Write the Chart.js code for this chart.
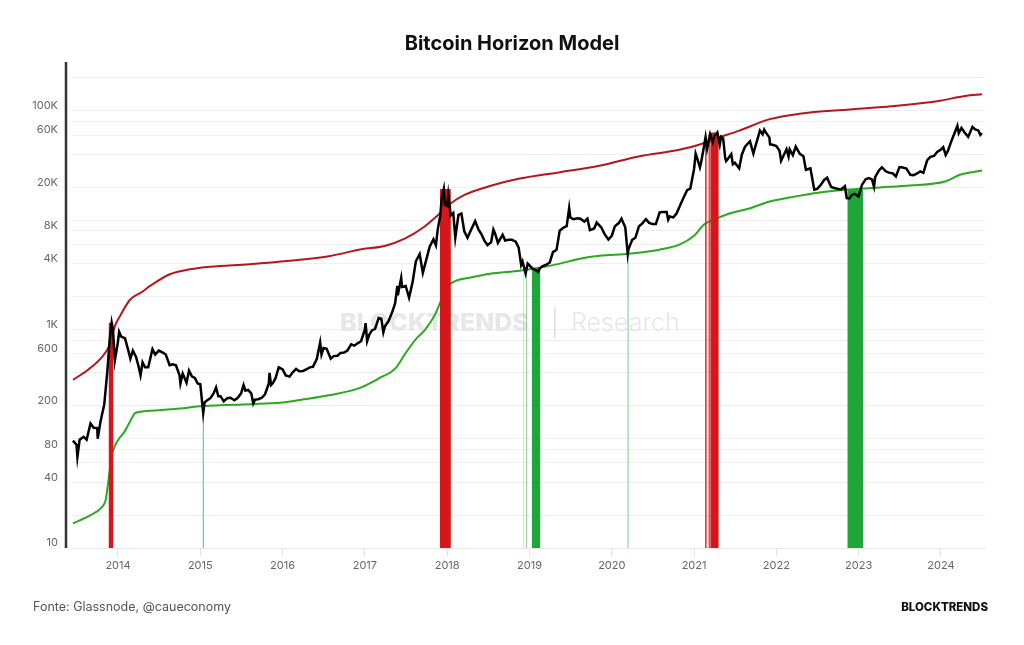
<!DOCTYPE html>
<html>
<head>
<meta charset="utf-8">
<title>Bitcoin Horizon Model</title>
<script src="https://cdn.jsdelivr.net/npm/chart.js@4.4.1/dist/chart.umd.min.js"></script>
<style>
  html, body { margin: 0; padding: 0; background: #fff; }
  #wrap { position: relative; width: 1024px; height: 645px; font-family: Inter, "Noto Sans", sans-serif; }
  #chart { position: absolute; left: 0; top: 0; }
  #title { position: absolute; top: 31px; left: 0; width: 1024px; text-align: center; font-size: 20px; font-weight: 700; color: #111; }
  #source { position: absolute; left: 33px; top: 599px; font-size: 12.5px; color: #555; }
  #brand { position: absolute; right: 36px; top: 600px; font-size: 11.5px; font-weight: 800; color: #111; }
</style>
</head>
<body>
<div id="wrap">
  <canvas id="chart" width="1024" height="645"></canvas>
  <div id="title">Bitcoin Horizon Model</div>
  <div id="source">Fonte: Glassnode, @caueconomy</div>
  <div id="brand">BLOCKTRENDS</div>
</div>
<script>
// axis ticks
var yearTicks = [2014, 2015, 2016, 2017, 2018, 2019, 2020, 2021, 2022, 2023, 2024];
var yGrid = [10, 20, 40, 60, 80, 100, 200, 400, 600, 800, 1000, 2000, 4000, 6000, 8000,
             10000, 20000, 40000, 60000, 80000, 100000, 200000];
var yLabelValues = [10, 40, 80, 200, 600, 1000, 4000, 8000, 20000, 60000, 100000];
var yLabelText = ["10", "40", "80", "200", "600", "1K", "4K", "8K", "20K", "60K", "100K"];

// BTC price
var priceDates = [
  "2013-06-15","2013-07-01","2013-07-05","2013-07-15","2013-08-01","2013-08-15","2013-09-01","2013-09-15",
  "2013-10-01","2013-10-03","2013-10-15","2013-11-01","2013-11-15","2013-11-25","2013-12-04","2013-12-10",
  "2013-12-18","2013-12-31",
  "2014-01-06","2014-01-15","2014-02-01","2014-02-15","2014-02-25","2014-03-08","2014-03-22","2014-04-01",
  "2014-04-11","2014-04-20","2014-05-01","2014-05-15","2014-06-03","2014-06-15","2014-07-01","2014-07-15",
  "2014-08-01","2014-08-18","2014-09-01","2014-09-15","2014-10-01","2014-10-05","2014-10-15","2014-11-01",
  "2014-11-12","2014-11-25","2014-12-08","2014-12-20",
  "2015-01-01","2015-01-14","2015-01-20","2015-02-01","2015-02-15","2015-03-01","2015-03-12","2015-03-22",
  "2015-04-01","2015-04-15","2015-05-01","2015-05-15","2015-06-01","2015-06-15","2015-07-01","2015-07-12",
  "2015-07-20","2015-08-01","2015-08-15","2015-08-24","2015-09-01","2015-09-15","2015-10-01","2015-10-15",
  "2015-11-01","2015-11-04","2015-11-11","2015-11-20","2015-12-01","2015-12-15",
  "2016-01-01","2016-01-15","2016-02-01","2016-02-15","2016-03-01","2016-03-15","2016-04-01","2016-04-15",
  "2016-05-01","2016-05-15","2016-06-01","2016-06-16","2016-06-22","2016-07-01","2016-07-15","2016-08-02",
  "2016-08-15","2016-09-01","2016-09-15","2016-10-01","2016-10-15","2016-11-01","2016-11-15","2016-12-01",
  "2016-12-15",
  "2017-01-01","2017-01-04","2017-01-11","2017-01-20","2017-02-01","2017-02-15","2017-03-03","2017-03-15",
  "2017-03-24","2017-04-01","2017-04-15","2017-05-01","2017-05-15","2017-05-25","2017-05-27","2017-06-11",
  "2017-06-15","2017-07-01","2017-07-16","2017-08-01","2017-08-15","2017-09-01","2017-09-15","2017-10-01",
  "2017-10-15","2017-11-01","2017-11-12","2017-11-20","2017-12-01","2017-12-08","2017-12-17","2017-12-22",
  "2018-01-01","2018-01-06","2018-01-17","2018-01-28","2018-02-06","2018-02-20","2018-03-05","2018-03-18",
  "2018-04-01","2018-04-15","2018-05-05","2018-05-20","2018-06-01","2018-06-15","2018-06-29","2018-07-15",
  "2018-07-25","2018-08-01","2018-08-14","2018-09-04","2018-09-15","2018-10-01","2018-10-15","2018-11-01",
  "2018-11-14","2018-11-25","2018-12-01","2018-12-15","2018-12-24",
  "2019-01-01","2019-01-15","2019-02-01","2019-02-08","2019-02-15","2019-03-01","2019-03-15","2019-04-01",
  "2019-04-15","2019-05-01","2019-05-15","2019-06-01","2019-06-15","2019-06-26","2019-07-01","2019-07-15",
  "2019-08-01","2019-08-15","2019-09-01","2019-09-15","2019-09-26","2019-10-15","2019-10-26","2019-11-15",
  "2019-12-01","2019-12-17",
  "2020-01-01","2020-01-15","2020-02-01","2020-02-13","2020-03-01","2020-03-12","2020-03-15","2020-04-01",
  "2020-04-15","2020-05-01","2020-05-15","2020-06-01","2020-06-15","2020-07-01","2020-07-15","2020-08-01",
  "2020-08-15","2020-09-01","2020-09-08","2020-09-15","2020-10-01","2020-10-15","2020-11-01","2020-11-15",
  "2020-12-01","2020-12-15",
  "2021-01-01","2021-01-08","2021-01-15","2021-01-27","2021-02-01","2021-02-15","2021-02-21","2021-02-28",
  "2021-03-13","2021-03-25","2021-04-01","2021-04-14","2021-04-25","2021-05-01","2021-05-10","2021-05-19",
  "2021-05-23","2021-06-01","2021-06-15","2021-06-22","2021-07-01","2021-07-20","2021-08-01","2021-08-15",
  "2021-09-06","2021-09-21","2021-10-01","2021-10-20","2021-11-01","2021-11-08","2021-11-15","2021-12-01",
  "2021-12-04","2021-12-15",
  "2022-01-01","2022-01-15","2022-01-22","2022-02-01","2022-02-15","2022-02-24","2022-03-01","2022-03-15",
  "2022-03-28","2022-04-15","2022-05-01","2022-05-12","2022-06-01","2022-06-18","2022-07-01","2022-07-15",
  "2022-08-01","2022-08-14","2022-09-01","2022-09-15","2022-10-01","2022-10-15","2022-11-01","2022-11-09",
  "2022-11-21","2022-12-01","2022-12-15","2022-12-30",
  "2023-01-01","2023-01-15","2023-02-01","2023-02-15","2023-03-01","2023-03-10","2023-03-15","2023-04-01",
  "2023-04-14","2023-05-01","2023-05-15","2023-06-01","2023-06-15","2023-07-01","2023-07-15","2023-08-01",
  "2023-08-18","2023-09-01","2023-09-15","2023-10-01","2023-10-15","2023-11-01","2023-11-15","2023-12-01",
  "2023-12-15",
  "2024-01-01","2024-01-11","2024-01-22","2024-02-01","2024-02-15","2024-03-01","2024-03-14","2024-03-20",
  "2024-04-01","2024-04-15","2024-05-01","2024-05-20","2024-06-01","2024-06-15","2024-06-24","2024-07-01"
];
var priceValues = [
  96, 88, 68, 98, 104, 98, 138, 126,
  125, 100, 142, 205, 420, 800, 1150, 980,
  520, 750,
  950, 860, 830, 650, 540, 640, 560, 470,
  380, 500, 450, 450, 660, 590, 640, 620,
  590, 470, 480, 470, 380, 320, 395, 325,
  420, 370, 360, 320,
  315, 172, 215, 225, 235, 260, 295, 245,
  245, 220, 235, 237, 225, 235, 260, 310,
  275, 280, 260, 210, 228, 230, 237, 255,
  320, 400, 310, 325, 360, 450,
  430, 380, 370, 405, 435, 415, 417, 430,
  450, 455, 535, 760, 590, 675, 665, 540,
  570, 575, 610, 615, 640, 730, 710, 750,
  780,
  1000, 1140, 780, 890, 980, 1010, 1270, 1250,
  940, 1080, 1180, 1420, 1730, 2500, 2050, 2950,
  2450, 2500, 1950, 2750, 4200, 4900, 3300, 4400,
  5700, 6700, 5900, 8200, 10900, 16000, 19300, 13800,
  13500, 17100, 11000, 11600, 6900, 11200, 11500, 7900,
  6900, 8000, 9800, 8200, 7500, 6500, 5900, 6300,
  8200, 7600, 6200, 7350, 6500, 6600, 6600, 6350,
  5600, 3900, 4200, 3250, 4000,
  3850, 3600, 3450, 3350, 3600, 3800, 3900, 4100,
  5100, 5350, 8000, 8550, 8800, 12900, 10600, 10200,
  10400, 10300, 9700, 10300, 8100, 8400, 9500, 8600,
  7400, 6650,
  7200, 8800, 9400, 10300, 8600, 4900, 5400, 6600,
  6900, 8800, 9300, 10200, 9450, 9200, 9200, 11800,
  11900, 11900, 10100, 10800, 10600, 11500, 13800, 16000,
  18800, 19400,
  29400, 40600, 36800, 30400, 33500, 48700, 57500, 45200,
  61200, 51700, 58800, 63500, 49000, 57800, 55900, 37000,
  34700, 36700, 40200, 32500, 33500, 29800, 39900, 47000,
  52700, 40700, 48200, 66000, 61000, 67500, 63500, 57200,
  49400, 48900,
  47700, 43100, 35000, 38700, 44500, 38300, 44400, 39300,
  47100, 40500, 38500, 28900, 29800, 19000, 19300, 20800,
  23300, 24400, 20100, 19700, 19300, 19100, 20500, 15900,
  15800, 17000, 17400, 16500,
  16600, 20900, 23700, 24300, 23600, 20200, 24700, 28500,
  30500, 28000, 27200, 26800, 25100, 30600, 30300, 29700,
  26000, 25800, 26600, 27900, 27100, 35400, 37900, 38700,
  42000,
  44200, 46600, 39500, 43100, 52000, 62400, 73100, 62500,
  69700, 63400, 57800, 71400, 67800, 66200, 60300, 62700
];

// upper (red) horizon line, decimal years
var topYears = [2013.453, 2013.64, 2013.81, 2013.89, 2013.96, 2014.03, 2014.146, 2014.29, 2014.39, 2014.63,
                2014.875, 2015.12, 2015.6, 2016.09, 2016.58, 2016.94, 2017.24, 2017.49, 2017.73, 2017.91,
                2018.03, 2018.21, 2018.52, 2018.88, 2019.37, 2019.85, 2020.34, 2020.82, 2021.06, 2021.24,
                2021.55, 2021.92, 2022.28, 2022.89, 2023.5, 2023.99, 2024.29, 2024.5];
var topValues = [346, 430, 565, 700, 1060, 1350, 1870, 2200, 2500, 3200,
                 3550, 3750, 3950, 4250, 4700, 5400, 5800, 6800, 8800, 11500,
                 14000, 17000, 20500, 24000, 27500, 31500, 38500, 44000, 49000, 55000,
                 66000, 84000, 94000, 103000, 112000, 124000, 137000, 142000];

// lower (green) horizon line
var bottomYears = [2013.453, 2013.66, 2013.8, 2013.85, 2013.89, 2013.925, 2013.96, 2014.0, 2014.085, 2014.15,
                   2014.21, 2014.39, 2014.69, 2015.04, 2015.6, 2015.97, 2016.21, 2016.58, 2016.94, 2017.18,
                   2017.37, 2017.49, 2017.61, 2017.73, 2017.85, 2017.93, 2018.0, 2018.09, 2018.27, 2018.52,
                   2018.88, 2019.12, 2019.37, 2019.61, 2019.85, 2020.21, 2020.58, 2020.82, 2021.0, 2021.12,
                   2021.24, 2021.43, 2021.67, 2021.92, 2022.16, 2022.53, 2022.89, 2023.26, 2023.62, 2024.05,
                   2024.23, 2024.5];
var bottomValues = [16.8, 19.9, 23.5, 27.5, 45, 70, 85, 97, 118, 145,
                    172, 180, 187, 199, 207, 213, 226, 251, 292, 360,
                    440, 600, 800, 990, 1360, 1870, 2450, 2750, 2970, 3240,
                    3450, 3670, 4000, 4440, 4730, 4930, 5370, 5970, 7200, 9100,
                    10100, 11500, 12800, 14800, 16100, 17900, 19050, 19900, 20700, 22600,
                    26000, 28500];

// signal bands: [start year, end year, top value]
var redBands = [[2013.885, 2013.945, 1150], [2017.911, 2018.045, 19300],
                [2021.134, 2021.154, 57500], [2021.174, 2021.192, 61000], [2021.196, 2021.300, 63500]];
var greenBands = [[2015.028, 2015.042, 200], [2018.928, 2018.936, 3450], [2018.955, 2018.966, 3450],
                  [2019.027, 2019.133, 3650], [2020.191, 2020.204, 4930], [2022.862, 2023.057, 19000]];

function toYear(s) {
  var p = s.split("-").map(Number);
  var a = Date.UTC(p[0], 0, 1), b = Date.UTC(p[0] + 1, 0, 1);
  return p[0] + (Date.UTC(p[0], p[1] - 1, p[2]) - a) / (b - a);
}
function pairs(xs, ys) {
  return xs.map(function(x, i) { return { x: x, y: ys[i] }; });
}
function bandPoints(bands) {
  var pts = [];
  bands.forEach(function(b) {
    pts.push({ x: b[0], y: b[2] }, { x: b[1], y: b[2] }, { x: b[1], y: null });
  });
  return pts;
}

var watermark = {
  id: "watermark",
  beforeDatasetsDraw: function(chart) {
    var c = chart.ctx;
    c.save();
    c.fillStyle = "#e7e7e7";
    c.textBaseline = "alphabetic";
    c.textAlign = "left";
    c.font = "800 25px Inter";
    c.fillText("BLOCKTRENDS", 340, 331);
    c.fillStyle = "#dddddd";
    c.fillRect(554, 307, 1.5, 31);
    c.fillStyle = "#e7e7e7";
    c.font = "300 25px Inter";
    c.fillText("Research", 571, 331);
    c.restore();
  }
};

var axisLine = {
  id: "axisLine",
  afterDraw: function(chart) {
    var c = chart.ctx, a = chart.chartArea;
    c.save();
    c.strokeStyle = "#333";
    c.lineWidth = 2.5;
    c.beginPath();
    c.moveTo(a.left - 5, a.top);
    c.lineTo(a.left - 5, a.bottom);
    c.stroke();
    c.restore();
  }
};

var ctx = document.getElementById("chart");

var chart = new Chart(ctx, {
  type: "line",
  data: {
    datasets: [
      {
        label: "Preço",
        data: pairs(priceDates.map(toYear), priceValues),
        borderColor: "#000",
        borderWidth: 2.5,
        pointRadius: 0,
        fill: false,
        tension: 0,
        order: 0
      },
      {
        label: "Topo",
        data: bandPoints(redBands),
        borderWidth: 0,
        borderColor: "rgba(0,0,0,0)",
        backgroundColor: "#d5161a",
        pointRadius: 0,
        fill: "start",
        spanGaps: false,
        order: 1
      },
      {
        label: "Fundo",
        data: bandPoints(greenBands),
        borderWidth: 0,
        borderColor: "rgba(0,0,0,0)",
        backgroundColor: "#1fa53a",
        pointRadius: 0,
        fill: "start",
        spanGaps: false,
        order: 1
      },
      {
        label: "Horizonte superior",
        data: pairs(topYears, topValues),
        borderColor: "#b3181d",
        borderWidth: 2,
        pointRadius: 0,
        fill: false,
        cubicInterpolationMode: "monotone",
        order: 2
      },
      {
        label: "Horizonte inferior",
        data: pairs(bottomYears, bottomValues),
        borderColor: "#2aaa1f",
        borderWidth: 2,
        pointRadius: 0,
        fill: false,
        cubicInterpolationMode: "monotone",
        order: 2
      }
    ]
  },
  options: {
    responsive: false,
    animation: false,
    layout: { padding: { left: 0, right: 39, top: 62, bottom: 67 } },
    plugins: {
      legend: { display: false },
      tooltip: { enabled: false },
      title: { display: false }
    },
    scales: {
      x: {
        type: "linear",
        min: 2013.429,
        max: 2024.535,
        afterBuildTicks: function(s) { s.ticks = yearTicks.map(function(v) { return { value: v }; }); },
        afterFit: function(s) { s.height = 30; },
        grid: { drawOnChartArea: false, drawTicks: true, tickLength: 8, color: "#e3e3e3" },
        border: { display: true, color: "#e6e6e6", width: 1 },
        ticks: {
          padding: 3,
          color: "#666",
          font: { family: "Inter", size: 11 },
          callback: function(v) { return String(v); }
        }
      },
      y: {
        type: "logarithmic",
        min: 10,
        max: 280000,
        afterBuildTicks: function(s) { s.ticks = yGrid.map(function(v) { return { value: v }; }); },
        afterFit: function(s) { s.width = 71; },
        grid: { color: "#efefef", drawTicks: false },
        border: { display: false },
        ticks: {
          autoSkip: false,
          padding: 13,
          labelOffset: -5,
          color: "#666",
          font: { family: "Inter", size: 11 },
          callback: function(v) {
            var i = yLabelValues.indexOf(v);
            return i >= 0 ? yLabelText[i] : "";
          }
        }
      }
    }
  },
  plugins: [watermark, axisLine]
});
</script>
</body>
</html>
